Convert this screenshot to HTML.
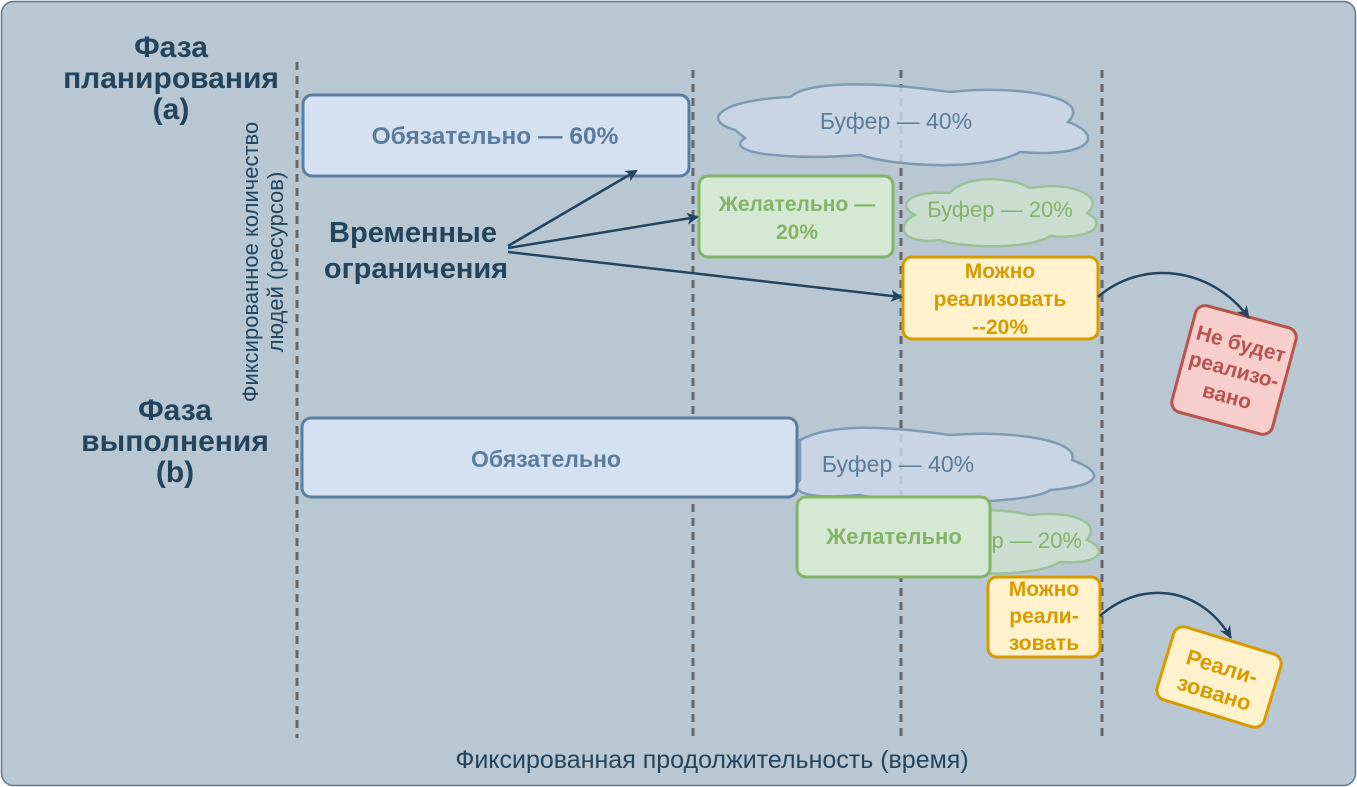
<!DOCTYPE html>
<html><head><meta charset="utf-8"><style>
html,body{margin:0;padding:0;background:#fff;}
svg{display:block;font-family:"Liberation Sans",sans-serif;}
</style></head><body>
<svg width="1357" height="787" viewBox="0 0 1357 787" xmlns="http://www.w3.org/2000/svg">
<defs>
<marker id="ar" markerWidth="12" markerHeight="12" refX="10" refY="6" orient="auto" markerUnits="userSpaceOnUse"><path d="M0,0 L12,6 L0,12 L3,6 Z" fill="#23445d"/></marker>
<marker id="ar2" markerWidth="14" markerHeight="14" refX="12" refY="7" orient="auto" markerUnits="userSpaceOnUse"><path d="M0,1 L13,7 L0,13 L4,7 Z" fill="#23445d"/></marker>
</defs>
<rect x="1.5" y="1.5" width="1354" height="784" rx="12" fill="#b9c7d2" stroke="#5a7a98" stroke-width="1.5"/>
<g stroke="#666" stroke-width="3" stroke-dasharray="8,6">
<line x1="297" y1="62" x2="297" y2="738"/>
<line x1="693" y1="70" x2="693" y2="738"/>
<line x1="901" y1="70" x2="901" y2="738"/>
<line x1="1102" y1="70" x2="1102" y2="738"/>
</g>
<g opacity="0.82">
<path d="M735,130 C700,120 720,100 790,97 C810,80 880,82 950,92 C1010,85 1095,95 1068,122 C1105,135 1092,158 1020,152 C990,170 900,168 860,155 C800,160 720,155 745,138 Z" fill="#cdd9e8" stroke="#7490ab" stroke-width="2.5"/>
<path d="M915,215 C895,205 910,190 950,193 C965,175 1010,176 1030,188 C1080,180 1105,200 1087,213 C1110,225 1090,240 1050,236 C1030,250 960,248 940,240 C900,245 895,225 915,215 Z" fill="#d0e1d0" stroke="#97c08a" stroke-width="2.5"/>
<path d="M800,440 C830,424 880,425 950,435 C1010,430 1080,440 1072,460 C1100,470 1110,485 1050,490 C1030,505 900,505 860,495 C800,500 790,490 800,480 Z" fill="#cdd9e8" stroke="#7490ab" stroke-width="2.5"/>
<path d="M940,520 C960,508 1000,508 1030,515 C1080,510 1100,525 1087,540 C1110,550 1100,565 1060,562 C1040,575 980,576 960,570 C930,572 930,555 940,545 Z" fill="#d0e1d0" stroke="#97c08a" stroke-width="2.5"/>
</g>
<text x="896" y="129" font-size="23" fill="#5a7b99" text-anchor="middle">Буфер — 40%</text>
<text x="1000" y="217" font-size="22" fill="#82b366" text-anchor="middle">Буфер — 20%</text>
<text x="898" y="472" font-size="23" fill="#5a7b99" text-anchor="middle">Буфер — 40%</text>
<text x="1082" y="548" font-size="22" fill="#82b366" text-anchor="end">р — 20%</text>
<g stroke-width="3">
<rect x="303" y="95" width="386" height="81" rx="9" fill="#d4e1f3" stroke="#5b7ea0"/>
<rect x="699" y="176" width="194" height="81" rx="9" fill="#d5e8d4" stroke="#82b366"/>
<rect x="903" y="257" width="195" height="82" rx="9" fill="#fff2cc" stroke="#d79b00"/>
<rect x="302" y="418" width="495" height="79" rx="9" fill="#d4e1f3" stroke="#5b7ea0"/>
<rect x="797" y="497" width="193" height="80" rx="9" fill="#d5e8d4" stroke="#82b366"/>
<rect x="988" y="577" width="112" height="80" rx="9" fill="#fff2cc" stroke="#d79b00"/>
<g transform="translate(1234,370) rotate(15)"><rect x="-52" y="-55" width="104" height="110" rx="10" fill="#f8cecc" stroke="#b85450"/></g>
<g transform="translate(1219,677) rotate(17)"><rect x="-56" y="-38" width="112" height="76" rx="10" fill="#fff2cc" stroke="#d79b00"/></g>
</g>
<g font-weight="bold" text-anchor="middle">
<text x="495" y="144" font-size="24.5" fill="#5a7b99">Обязательно — 60%</text>
<text x="797" y="211" font-size="21" fill="#82b366">Желательно —</text>
<text x="797" y="239" font-size="21" fill="#82b366">20%</text>
<text x="1000" y="278" font-size="21" fill="#d79b00">Можно</text>
<text x="1000" y="306" font-size="21" fill="#d79b00">реализовать</text>
<text x="1000" y="334" font-size="21" fill="#d79b00">--20%</text>
<text x="546" y="467" font-size="23" fill="#5a7b99">Обязательно</text>
<text x="894" y="544" font-size="22" fill="#82b366">Желательно</text>
<text x="1044" y="596" font-size="21" fill="#d79b00">Можно</text>
<text x="1044" y="623" font-size="21" fill="#d79b00">реали-</text>
<text x="1044" y="650" font-size="21" fill="#d79b00">зовать</text>
<g transform="translate(1234,370) rotate(15)" font-size="21" fill="#b85450">
<text x="0" y="-20">Не будет</text><text x="0" y="7">реализо-</text><text x="0" y="34">вано</text></g>
<g transform="translate(1219,677) rotate(17)" font-size="22" fill="#d79b00">
<text x="0" y="-3">Реали-</text><text x="0" y="24">зовано</text></g>
</g>
<g stroke="#23445d" stroke-width="2.5" fill="none">
<line x1="508" y1="246" x2="636" y2="171" marker-end="url(#ar)"/>
<line x1="508" y1="248" x2="697" y2="217" marker-end="url(#ar)"/>
<line x1="508" y1="252" x2="901" y2="297" marker-end="url(#ar)"/>
<path d="M1098,297 C1140,260 1210,265 1249,318" marker-end="url(#ar2)"/>
<path d="M1100,616 C1140,580 1200,585 1231,638" marker-end="url(#ar2)"/>
</g>
<g font-weight="bold" fill="#23445d" text-anchor="middle">
<text x="171" y="57" font-size="30">Фаза</text>
<text x="171" y="88" font-size="30">планирования</text>
<text x="171" y="119" font-size="30">(a)</text>
<text x="175" y="420" font-size="30">Фаза</text>
<text x="175" y="451" font-size="30">выполнения</text>
<text x="175" y="482" font-size="30">(b)</text>
<text x="413" y="242" font-size="29">Временные</text>
<text x="416" y="278" font-size="29">ограничения</text>
</g>
<g transform="translate(264,262) rotate(-90)" font-size="22" fill="#23445d" text-anchor="middle">
<text x="0" y="-6">Фиксированное количество</text>
<text x="0" y="19">людей (ресурсов)</text>
</g>
<text x="712" y="768" font-size="25" fill="#23445d" text-anchor="middle">Фиксированная продолжительность (время)</text>
</svg>
</body></html>
